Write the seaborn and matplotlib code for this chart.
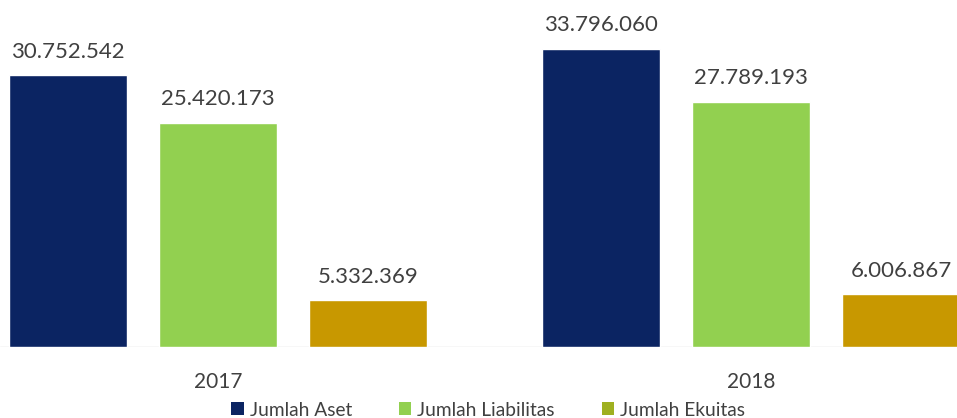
import matplotlib
matplotlib.use("Agg")
import matplotlib.pyplot as plt
from matplotlib.patches import Patch
import seaborn as sns
import pandas as pd

years = ["2017", "2018"]
categories = ["Jumlah Aset", "Jumlah Liabilitas", "Jumlah Ekuitas"]
aset = [30752542, 33796060]
liabilitas = [25420173, 27789193]
ekuitas = [5332369, 6006867]

bar_colors = ["#0b2462", "#92d050", "#c89800"]
legend_colors = ["#0b2462", "#92d050", "#9fb020"]

rows = []
for i, y in enumerate(years):
    for cat, vals in zip(categories, [aset, liabilitas, ekuitas]):
        rows.append({"Tahun": y, "Kategori": cat, "Nilai": vals[i]})
df = pd.DataFrame(rows)

sns.set_theme(style="white")
plt.rcParams["font.family"] = ["Lato", "DejaVu Sans"]

fig = plt.figure(figsize=(9.57, 4.18), dpi=100)
ax = fig.add_axes([0, 71 / 418, 1, 347 / 418])

sns.barplot(data=df, x="Tahun", y="Nilai", hue="Kategori", hue_order=categories,
            palette=bar_colors, width=0.844, gap=0.217, legend=False,
            saturation=1, ax=ax, errorbar=None)

for cont in ax.containers:
    ax.bar_label(cont, labels=[f"{v:,.0f}".replace(",", ".") for v in cont.datavalues],
                 padding=9.5, fontsize=16, color="#404040")

ax.set_xlim(-0.409, 1.386)
ax.set_ylim(0, 39.3e6)
ax.axhline(0, color="#d9d9d9", lw=1, zorder=0)
for s in ax.spines.values():
    s.set_visible(False)
ax.set_yticks([])
ax.set_xlabel("")
ax.set_ylabel("")
ax.tick_params(axis="x", length=0, pad=18, labelsize=15, labelcolor="#404040")

handles = [Patch(facecolor=c, edgecolor="none", label=l) for c, l in zip(legend_colors, categories)]
fig.legend(handles=handles, loc="center", bbox_to_anchor=(0.51, 8 / 418), ncol=3,
           frameon=False, fontsize=13.8, handlelength=0.65, handleheight=0.65,
           handletextpad=0.31, columnspacing=2.45, labelcolor="#404040")

fig.savefig("out.png", dpi=100)
